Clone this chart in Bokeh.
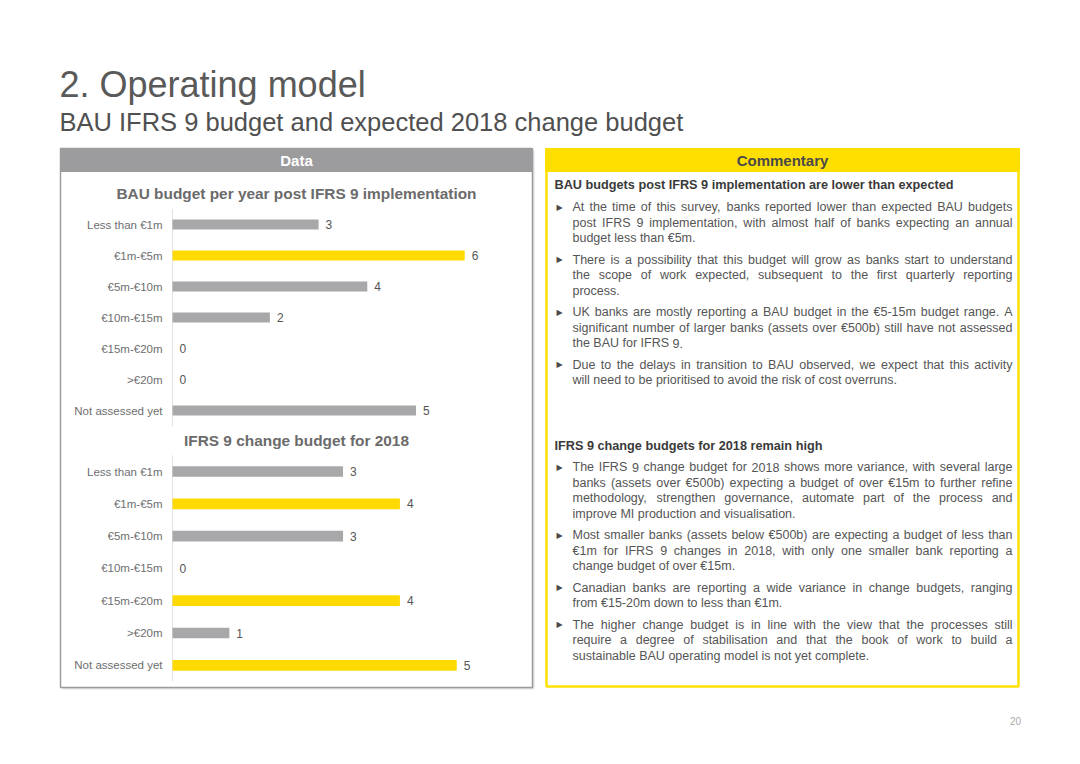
from bokeh.plotting import figure
from bokeh.models import Range1d
from bokeh.core.properties import value
from bokeh.embed import file_html
from bokeh.resources import INLINE

# ---------------- data ----------------
categories = ["Less than €1m", "€1m-€5m", "€5m-€10m", "€10m-€15m",
              "€15m-€20m", ">€20m", "Not assessed yet"]
bau_values = [3, 6, 4, 2, 0, 0, 5]
change_values = [3, 4, 3, 0, 4, 1, 5]

page_title = "2. Operating model"
page_subtitle = "BAU IFRS 9 budget and expected 2018 change budget"
bau_title = "BAU budget per year post IFRS 9 implementation"
change_title = "IFRS 9 change budget for 2018"
page_number = "20"

heading_1 = "BAU budgets post IFRS 9 implementation are lower than expected"
bullets_1 = [
    ["At the time of this survey, banks reported lower than expected BAU budgets",
     "post IFRS 9 implementation, with almost half of banks expecting an annual",
     "budget less than €5m."],
    ["There is a possibility that this budget will grow as banks start to understand",
     "the scope of work expected, subsequent to the first quarterly reporting",
     "process."],
    ["UK banks are mostly reporting a BAU budget in the €5-15m budget range. A",
     "significant number of larger banks (assets over €500b) still have not assessed",
     "the BAU for IFRS 9."],
    ["Due to the delays in transition to BAU observed, we expect that this activity",
     "will need to be prioritised to avoid the risk of cost overruns."],
]
heading_2 = "IFRS 9 change budgets for 2018 remain high"
bullets_2 = [
    ["The IFRS 9 change budget for 2018 shows more variance, with several large",
     "banks (assets over €500b) expecting a budget of over €15m to further refine",
     "methodology, strengthen governance, automate part of the process and",
     "improve MI production and visualisation."],
    ["Most smaller banks (assets below €500b) are expecting a budget of less than",
     "€1m for IFRS 9 changes in  2018, with only one smaller bank reporting a",
     "change budget of over €15m."],
    ["Canadian banks are reporting a wide variance in change budgets, ranging",
     "from €15-20m down to less than €1m."],
    ["The higher change budget is in line with the view that the processes still",
     "require a degree of stabilisation and that the book of work to build a",
     "sustainable BAU operating model is not yet complete."],
]

# ---------------- styles ----------------
GREY = "#a8a7a9"
YELLOW = "#ffda00"
bau_colors = [GREY, YELLOW, GREY, GREY, GREY, GREY, GREY]
change_colors = [GREY, YELLOW, GREY, GREY, YELLOW, GREY, YELLOW]
FONT = value("Liberation Sans")

W, H = 1064, 748

p = figure(width=W, height=H, x_range=Range1d(0, W), y_range=Range1d(H, 0),
           output_backend="svg", toolbar_location=None, min_border=0)
p.axis.visible = False
p.grid.visible = False
p.outline_line_color = None
p.background_fill_color = "white"
p.border_fill_color = "white"


def txt(x, y, s, size, color, align="left", baseline="middle", bold=False, font=FONT, **kw):
    p.text(x=[x], y=[y], text=[s], text_font=font, text_font_size=value(size),
           text_color=color, text_align=align, text_baseline=baseline,
           text_font_style="bold" if bold else "normal", **kw)


# ---------------- titles ----------------
txt(59, 84, page_title, "36px", "#595959")
txt(59, 121.5, page_subtitle, "25.5px", "#505050")

# ---------------- panels ----------------
p.quad(left=[62], right=[534], top=[150], bottom=[689], fill_color="#e2e2e2", line_color=None)
p.quad(left=[60], right=[532], top=[148], bottom=[687], fill_color="white",
       line_color="#9b9b9b", line_width=1.5)
p.quad(left=[60], right=[532], top=[148], bottom=[171], fill_color="#9c9b9d", line_color="#9c9b9d")
txt(296, 160, "Data", "15px", "white", align="center", bold=True)

p.quad(left=[546], right=[1018], top=[149], bottom=[686], fill_color="white",
       line_color="#ffe100", line_width=2.5)
p.quad(left=[545], right=[1019], top=[148], bottom=[171], fill_color="#ffdf00", line_color="#ffdf00")
txt(782, 160, "Commentary", "15px", "#4a4a4a", align="center", bold=True)

txt(1015, 720, page_number, "10px", "#aaaaaa", align="center")


# ---------------- bar charts ----------------
def chart(name, values, colors, origin_x, px_per_unit, row0_y, row_step, bar_h, title, title_y):
    p.extra_x_ranges[name + "x"] = Range1d(start=(0 - origin_x) / px_per_unit,
                                           end=(W - origin_x) / px_per_unit)
    p.extra_y_ranges[name + "y"] = Range1d(start=(H - row0_y) / row_step,
                                           end=(0 - row0_y) / row_step)
    kw = dict(x_range_name=name + "x", y_range_name=name + "y")
    n = len(categories)
    idx = list(range(n))
    txt(296, title_y, title, "15.4px", "#6b6b6b", align="center", bold=True)
    p.segment(x0=[0], y0=[-0.5], x1=[0], y1=[n - 0.5], line_color="#e2e2e2", line_width=1, **kw)
    p.hbar(y=idx, left=0, right=values, height=bar_h, fill_color=colors, line_color=None, **kw)
    p.text(x=[0] * n, y=idx, text=categories, x_offset=-10, text_align="right",
           text_baseline="middle", text_font=FONT, text_font_size=value("11.5px"),
           text_color="#6e6e6e", **kw)
    p.text(x=values, y=idx, text=[str(v) for v in values], x_offset=7, text_align="left",
           text_baseline="middle", text_font=FONT, text_font_size=value("12px"),
           text_color="#555555", **kw)


chart("c1", bau_values, bau_colors, 172, 48.7, 224, 31.0, 0.33, bau_title, 193)
chart("c2", change_values, change_colors, 172, 56.85, 471, 32.3, 0.33, change_title, 440)

# ---------------- commentary (justified) ----------------
WID = {}
for c in "abdeghnopqu0123456789€":
    WID[c] = 556
WID.update({"c": 500, "f": 278, "i": 222, "j": 222, "k": 500, "l": 222, "m": 833,
            "r": 333, "s": 500, "t": 278, "v": 500, "w": 722, "x": 500, "y": 500, "z": 500,
            " ": 278, ".": 278, ",": 278, "-": 333, "(": 333, ")": 333,
            "A": 667, "B": 667, "C": 722, "D": 722, "E": 667, "F": 611, "G": 778, "H": 722,
            "I": 278, "J": 500, "K": 667, "L": 556, "M": 833, "N": 722, "O": 778, "P": 667,
            "Q": 778, "R": 722, "S": 667, "T": 611, "U": 722, "V": 667, "W": 944, "X": 667,
            "Y": 667, "Z": 611})
BODY = 12.5
LEFT, RIGHT = 572, 1012
LINE = 15.5


def width(s):
    return sum(WID.get(ch, 556) for ch in s) * BODY / 1000.0


wx, wy, wt = [], [], []
bx, by = [], []


def paragraph(lines, y0):
    bx.append(556)
    by.append(y0)
    for i, line in enumerate(lines):
        words = line.split()
        y = y0 + i * LINE
        if i < len(lines) - 1 and len(words) > 1:
            gap = (RIGHT - LEFT - sum(width(w) for w in words)) / (len(words) - 1)
        else:
            gap = width(" ")
        x = LEFT
        for w in words:
            wx.append(x)
            wy.append(y)
            wt.append(w)
            x += width(w) + gap
    return y0 + len(lines) * LINE + 6


def section(heading, bullets, hy, y0):
    txt(554, hy, heading, "12.7px", "#3a3a3a", bold=True)
    y = y0
    for b in bullets:
        y = paragraph(b, y)


section(heading_1, bullets_1, 184.5, 206.7)
section(heading_2, bullets_2, 445, 466.7)

p.text(x=wx, y=wy, text=wt, text_font=FONT, text_font_size=value("12.5px"),
       text_color="#555555", text_align="left", text_baseline="middle")
p.text(x=bx, y=by, text=["▶"] * len(bx), text_font=value("DejaVu Sans"),
       text_font_size=value("8px"), text_color="#4a4a4a", text_align="left",
       text_baseline="middle")

open("out.html", "w").write(file_html(p, INLINE))
